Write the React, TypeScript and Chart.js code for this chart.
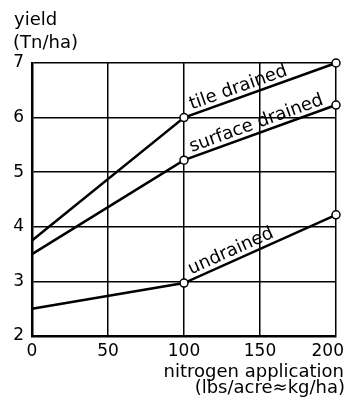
import React, { useEffect, useRef } from "react";
import { Chart, registerables } from "chart.js";

Chart.register(...registerables);

const nitrogen = [0, 100, 200];
const tileDrained = [3.75, 6.0, 7.0];
const surfaceDrained = [3.5, 5.22, 6.23];
const undrained = [2.5, 2.97, 4.22];
const seriesLabels = ["tile drained", "surface drained", "undrained"];
const yTitle = ["yield", "(Tn/ha)"];
const xTitle = ["nitrogen application", "(lbs/acre\u2248kg/ha)"];

const FONT = "'DejaVu Sans', sans-serif";

const labelPlugin = {
  id: "lineLabels",
  afterDatasetsDraw(chart: any) {
    const ctx = chart.ctx;
    ctx.save();
    ctx.fillStyle = "#000";
    ctx.font = `18px ${FONT}`;
    chart.data.datasets.forEach((ds: any, i: number) => {
      const meta = chart.getDatasetMeta(i);
      const p1 = meta.data[1];
      const p2 = meta.data[2];
      const ang = Math.atan2(p2.y - p1.y, p2.x - p1.x);
      const len = Math.hypot(p2.x - p1.x, p2.y - p1.y);
      const t = 10 / len;
      const bx = p1.x + (p2.x - p1.x) * t;
      const by = p1.y + (p2.y - p1.y) * t;
      ctx.save();
      ctx.translate(bx, by);
      ctx.rotate(ang);
      ctx.textAlign = "left";
      ctx.textBaseline = "alphabetic";
      ctx.fillText(ds.label, 0, -5);
      ctx.restore();
    });
    ctx.restore();
  },
  afterDraw(chart: any) {
    const ctx = chart.ctx;
    ctx.save();
    ctx.fillStyle = "#000";
    // x tick labels, kept inside the canvas at the right edge
    const xs = chart.scales.x;
    ctx.font = `17px ${FONT}`;
    ctx.textAlign = "center";
    ctx.textBaseline = "top";
    xs.ticks.forEach((tk: any) => {
      const label = String(tk.value);
      const w = ctx.measureText(label).width;
      let cx = xs.getPixelForValue(tk.value);
      if (cx + w / 2 > 344) cx = 344 - w / 2;
      ctx.fillText(label, cx, xs.top + 7);
    });
    ctx.font = `18px ${FONT}`;
    ctx.textBaseline = "alphabetic";
    ctx.textAlign = "left";
    ctx.fillText(yTitle[0], 14, 25);
    ctx.fillText(yTitle[1], 13, 48);
    ctx.textAlign = "right";
    ctx.fillText(xTitle[0], 344, 377);
    ctx.fillText(xTitle[1], 345, 393);
    ctx.restore();
  },
};

export default function App() {
  const ref = useRef<HTMLCanvasElement | null>(null);
  useEffect(() => {
    document.body.style.margin = "0";
    const mk = (label: string, data: number[]) => ({
      label,
      data: nitrogen.map((x, i) => ({ x, y: data[i] })),
      borderColor: "#000",
      borderWidth: 2.5,
      pointRadius: [0, 4, 4],
      pointBackgroundColor: "#fff",
      pointBorderColor: "#000",
      pointBorderWidth: 1.5,
      tension: 0,
      clip: false,
    });
    const chart = new Chart(ref.current!, {
      type: "line",
      data: {
        datasets: [
          mk(seriesLabels[0], tileDrained),
          mk(seriesLabels[1], surfaceDrained),
          mk(seriesLabels[2], undrained),
        ],
      },
      options: {
        animation: false,
        responsive: false,
        devicePixelRatio: 1,
        layout: { padding: { top: 63, right: 15, left: 0, bottom: 0 } },
        plugins: { legend: { display: false }, tooltip: { enabled: false } },
        scales: {
          x: {
            type: "linear",
            min: 0,
            max: 200,
            ticks: { stepSize: 50, display: false },
            grid: { color: "#000", lineWidth: 1.5, drawTicks: false },
            border: { color: "#000", width: 2.5 },
            afterFit: (s: any) => {
              s.height = 61;
              s.paddingLeft = 0;
              s.paddingRight = 0;
            },
          },
          y: {
            min: 2,
            max: 7,
            ticks: { stepSize: 1, color: "#000", font: { size: 17, family: FONT }, padding: 8 },
            grid: { color: "#000", lineWidth: 1.5, drawTicks: false },
            border: { color: "#000", width: 2.5 },
            afterFit: (s: any) => {
              s.width = 32;
              s.paddingTop = 0;
              s.paddingBottom = 0;
            },
          },
        },
      },
      plugins: [labelPlugin],
    });
    return () => chart.destroy();
  }, []);
  return (
    <div style={{ width: 351, height: 397 }}>
      <canvas ref={ref} width={351} height={397} />
    </div>
  );
}
